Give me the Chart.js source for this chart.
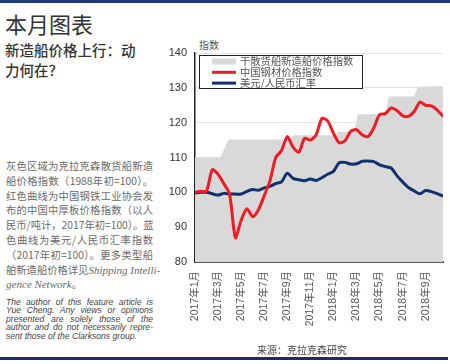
<!DOCTYPE html>
<html lang="zh">
  <head>
    <meta charset="UTF-8" />
    <title>本月图表</title>
    <script src="https://cdn.jsdelivr.net/npm/chart.js"></script>
    <style>
      body {
        margin: 0;
        width: 450px;
        height: 364px;
        position: relative;
        background: #fff;
        overflow: hidden;
        font-family: "Noto Sans CJK SC", sans-serif;
      }
      .topbar {
        position: absolute; left: 0; top: 0; width: 450px; height: 3px;
        background: #1d3a78;
      }
      .botbar {
        position: absolute; left: 0; top: 357px; width: 448px; height: 3px;
        background: #1c2d5e;
      }
      h1 {
        position: absolute; left: 5px; top: 8px; margin: 0;
        font-size: 22px; font-weight: 400; color: #333; line-height: 30px;
      }
      h2 {
        position: absolute; left: 5px; top: 40px; margin: 0; width: 140px;
        font-size: 14.5px; font-weight: 500; color: #333; line-height: 20px;
      }
      .desc {
        position: absolute; left: 6px; top: 159px; width: 147px;
        font-size: 10.3px; color: #6a6a6a; line-height: 14.8px;
      }
      .desc div, .note div {
        text-align: justify; text-align-last: justify; white-space: nowrap;
      }
      .desc div.last, .note div.last { text-align-last: left; }
      .desc i { font-family: "Liberation Serif", serif; font-size: 11px; }
      .note {
        position: absolute; left: 6px; top: 298px; width: 147px;
        font-family: "Liberation Sans", Arial, sans-serif; font-style: italic;
        font-size: 8.6px; color: #444; line-height: 8.4px;
      }
      .unit {
        position: absolute; left: 199px; top: 37px;
        font-size: 10px; color: #555;
      }
      .source {
        position: absolute; left: 257px; top: 342px;
        font-size: 10px; color: #444;
      }
      #wrap {
        position: absolute; left: 150px; top: 30px; width: 300px; height: 320px;
      }
    </style>
  </head>
  <body>
    <div class="topbar"></div>
    <h1>本月图表</h1>
    <h2>新造船价格上行：动力何在？</h2>
    <div class="desc">
      <div>灰色区域为克拉克森散货船新造</div>
      <div>船价格指数（1988年初=100）。</div>
      <div>红色曲线为中国钢铁工业协会发</div>
      <div>布的中国中厚板价格指数（以人</div>
      <div>民币/吨计，2017年初=100）。蓝</div>
      <div>色曲线为美元/人民币汇率指数</div>
      <div>（2017年初=100）。更多类型船</div>
      <div>舶新造船价格详见<i>Shipping Intelli-</i></div>
      <div class="last"><i>gence Network</i>。</div>
    </div>
    <div class="note">
      <div>The author of this feature article is</div>
      <div>Yue Cheng. Any views or opinions</div>
      <div>presented are solely those of the</div>
      <div>author and do not necessarily repre-</div>
      <div class="last">sent those of the Clarksons group.</div>
    </div>
    <div class="unit">指数</div>
    <div id="wrap"><canvas id="chart"></canvas></div>
    <div class="source">来源：克拉克森研究</div>
    <div class="botbar"></div>

    <script>
      // months since Jan 2017, half-month steps
      const months = [
        0, 0.5, 1, 1.5, 2, 2.5, 3, 3.5, 4, 4.5, 5, 5.5, 6, 6.5, 7, 7.5, 8, 8.5,
        9, 9.5, 10, 10.5, 11, 11.5, 12, 12.5, 13, 13.5, 14, 14.5, 15, 15.5, 16,
        16.5, 17, 17.5, 18, 18.5, 19, 19.5, 20, 20.5, 21, 21.5,
      ];
      // China steel plate price index
      const steelIdx = [
        100, 100.3, 100.4, 106.5, 105.2, 102.5, 99.5, 87, 92, 95.3, 93, 95, 99,
        103.3, 110, 112, 116, 113, 111.5, 115.5, 115, 116.5, 121.2, 120.5, 117,
        114.2, 114.8, 117.5, 118, 116.5, 116, 118.5, 122.3, 122.6, 124.2, 123.5,
        122, 121.8, 123.2, 125.9, 125, 124.8, 123.6, 121.8,
      ];
      // USD/CNY index
      const fxIdx = [
        99.8, 100, 100, 99.6, 99.2, 99.7, 99.5, 99.5, 99.5, 100.3, 100.8, 100.6,
        101.3, 101.7, 102.5, 103, 105.5, 104, 103.6, 103.3, 103.8, 103.4, 104.2,
        105.2, 106, 108.5, 108.6, 108.1, 108.2, 108.9, 109, 108.8, 107.9, 107.4,
        107, 104.8, 103, 101.4, 100.4, 99.6, 100.5, 100.2, 99.6, 98.9,
      ];
      // bulker newbuilding price index (stepped)
      const bulkerX = [0, 2.2, 2.9, 8.3, 8.5, 12.2, 12.4, 13.8, 14.1, 16.5, 16.8, 19.0, 19.3, 21.5];
      const bulkerY = [110, 110, 115.2, 115.2, 116.4, 116.4, 117.4, 117.4, 122.4, 122.4, 127.5, 127.5, 130.3, 130.5];

      const tickLabels = [
        "2017年1月", "2017年3月", "2017年5月", "2017年7月", "2017年9月",
        "2017年11月", "2018年1月", "2018年3月", "2018年5月", "2018年7月",
        "2018年9月",
      ];
      const seriesNames = ["干散货船新造船价格指数", "中国钢材价格指数", "美元/人民币汇率"];

      const toXY = (xs, ys) => xs.map((x, i) => ({ x: x, y: ys[i] }));

      // legend box drawn inside the plot
      const boxLegend = {
        id: "boxLegend",
        afterDraw(chart) {
          const ctx = chart.ctx;
          const x0 = 49, y0 = 25, w = 163, h = 33;
          ctx.save();
          ctx.fillStyle = "#fff";
          ctx.fillRect(x0, y0, w, h);
          ctx.strokeStyle = "#222";
          ctx.lineWidth = 1;
          ctx.strokeRect(x0 + 0.5, y0 + 0.5, w, h);
          ctx.font = '10.3px "Noto Sans CJK SC"';
          ctx.textBaseline = "middle";
          chart.data.datasets.forEach((ds, i) => {
            const cy = y0 + 6.5 + i * 10.8;
            ctx.strokeStyle = ds.legendColor;
            ctx.lineWidth = i === 0 ? 6 : 3;
            ctx.beginPath();
            ctx.moveTo(62, cy);
            ctx.lineTo(86, cy);
            ctx.stroke();
            ctx.fillStyle = "#555";
            ctx.fillText(ds.label, 90, cy);
          });
          ctx.restore();
        },
      };

      new Chart(document.getElementById("chart"), {
        type: "line",
        data: {
          datasets: [
            {
              label: seriesNames[0],
              data: toXY(bulkerX, bulkerY),
              borderWidth: 0,
              backgroundColor: "#d9d9d9",
              legendColor: "#d9d9d9",
              fill: "start",
              pointRadius: 0,
              tension: 0,
              order: 3,
            },
            {
              label: seriesNames[1],
              data: toXY(months, steelIdx),
              borderColor: "#ee1c24",
              legendColor: "#ee1c24",
              borderWidth: 3,
              pointRadius: 0,
              tension: 0.25,
              fill: false,
              order: 1,
            },
            {
              label: seriesNames[2],
              data: toXY(months, fxIdx),
              borderColor: "#10306e",
              legendColor: "#10306e",
              borderWidth: 3,
              pointRadius: 0,
              tension: 0.25,
              fill: false,
              order: 2,
            },
          ],
        },
        options: {
          responsive: true,
          maintainAspectRatio: false,
          animation: false,
          layout: { padding: { top: 23, right: 7, left: 0, bottom: 0 } },
          plugins: { legend: { display: false }, tooltip: { enabled: false } },
          scales: {
            x: {
              type: "linear",
              min: 0,
              max: 21.5,
              afterFit: (s) => { s.height = 88; },
              grid: { display: false, drawTicks: false },
              border: { color: "#555", width: 2 },
              ticks: {
                stepSize: 2,
                includeBounds: false,
                autoSkip: false,
                minRotation: 90,
                maxRotation: 90,
                padding: 9,
                color: "#555",
                font: { family: "'Liberation Sans', 'Noto Sans CJK SC'", size: 10.5 },
                callback: (v) => tickLabels[v / 2] ?? "",
              },
            },
            y: {
              min: 80,
              max: 140,
              afterFit: (s) => { s.width = 45; },
              grid: { color: "#e2e2e2", drawTicks: false },
              border: { color: "#222", width: 1.5 },
              ticks: {
                stepSize: 10,
                padding: 8,
                color: "#333",
                font: { family: "'Liberation Sans', Arial", size: 11 },
              },
            },
          },
        },
        plugins: [boxLegend],
      });
    </script>
  </body>
</html>
